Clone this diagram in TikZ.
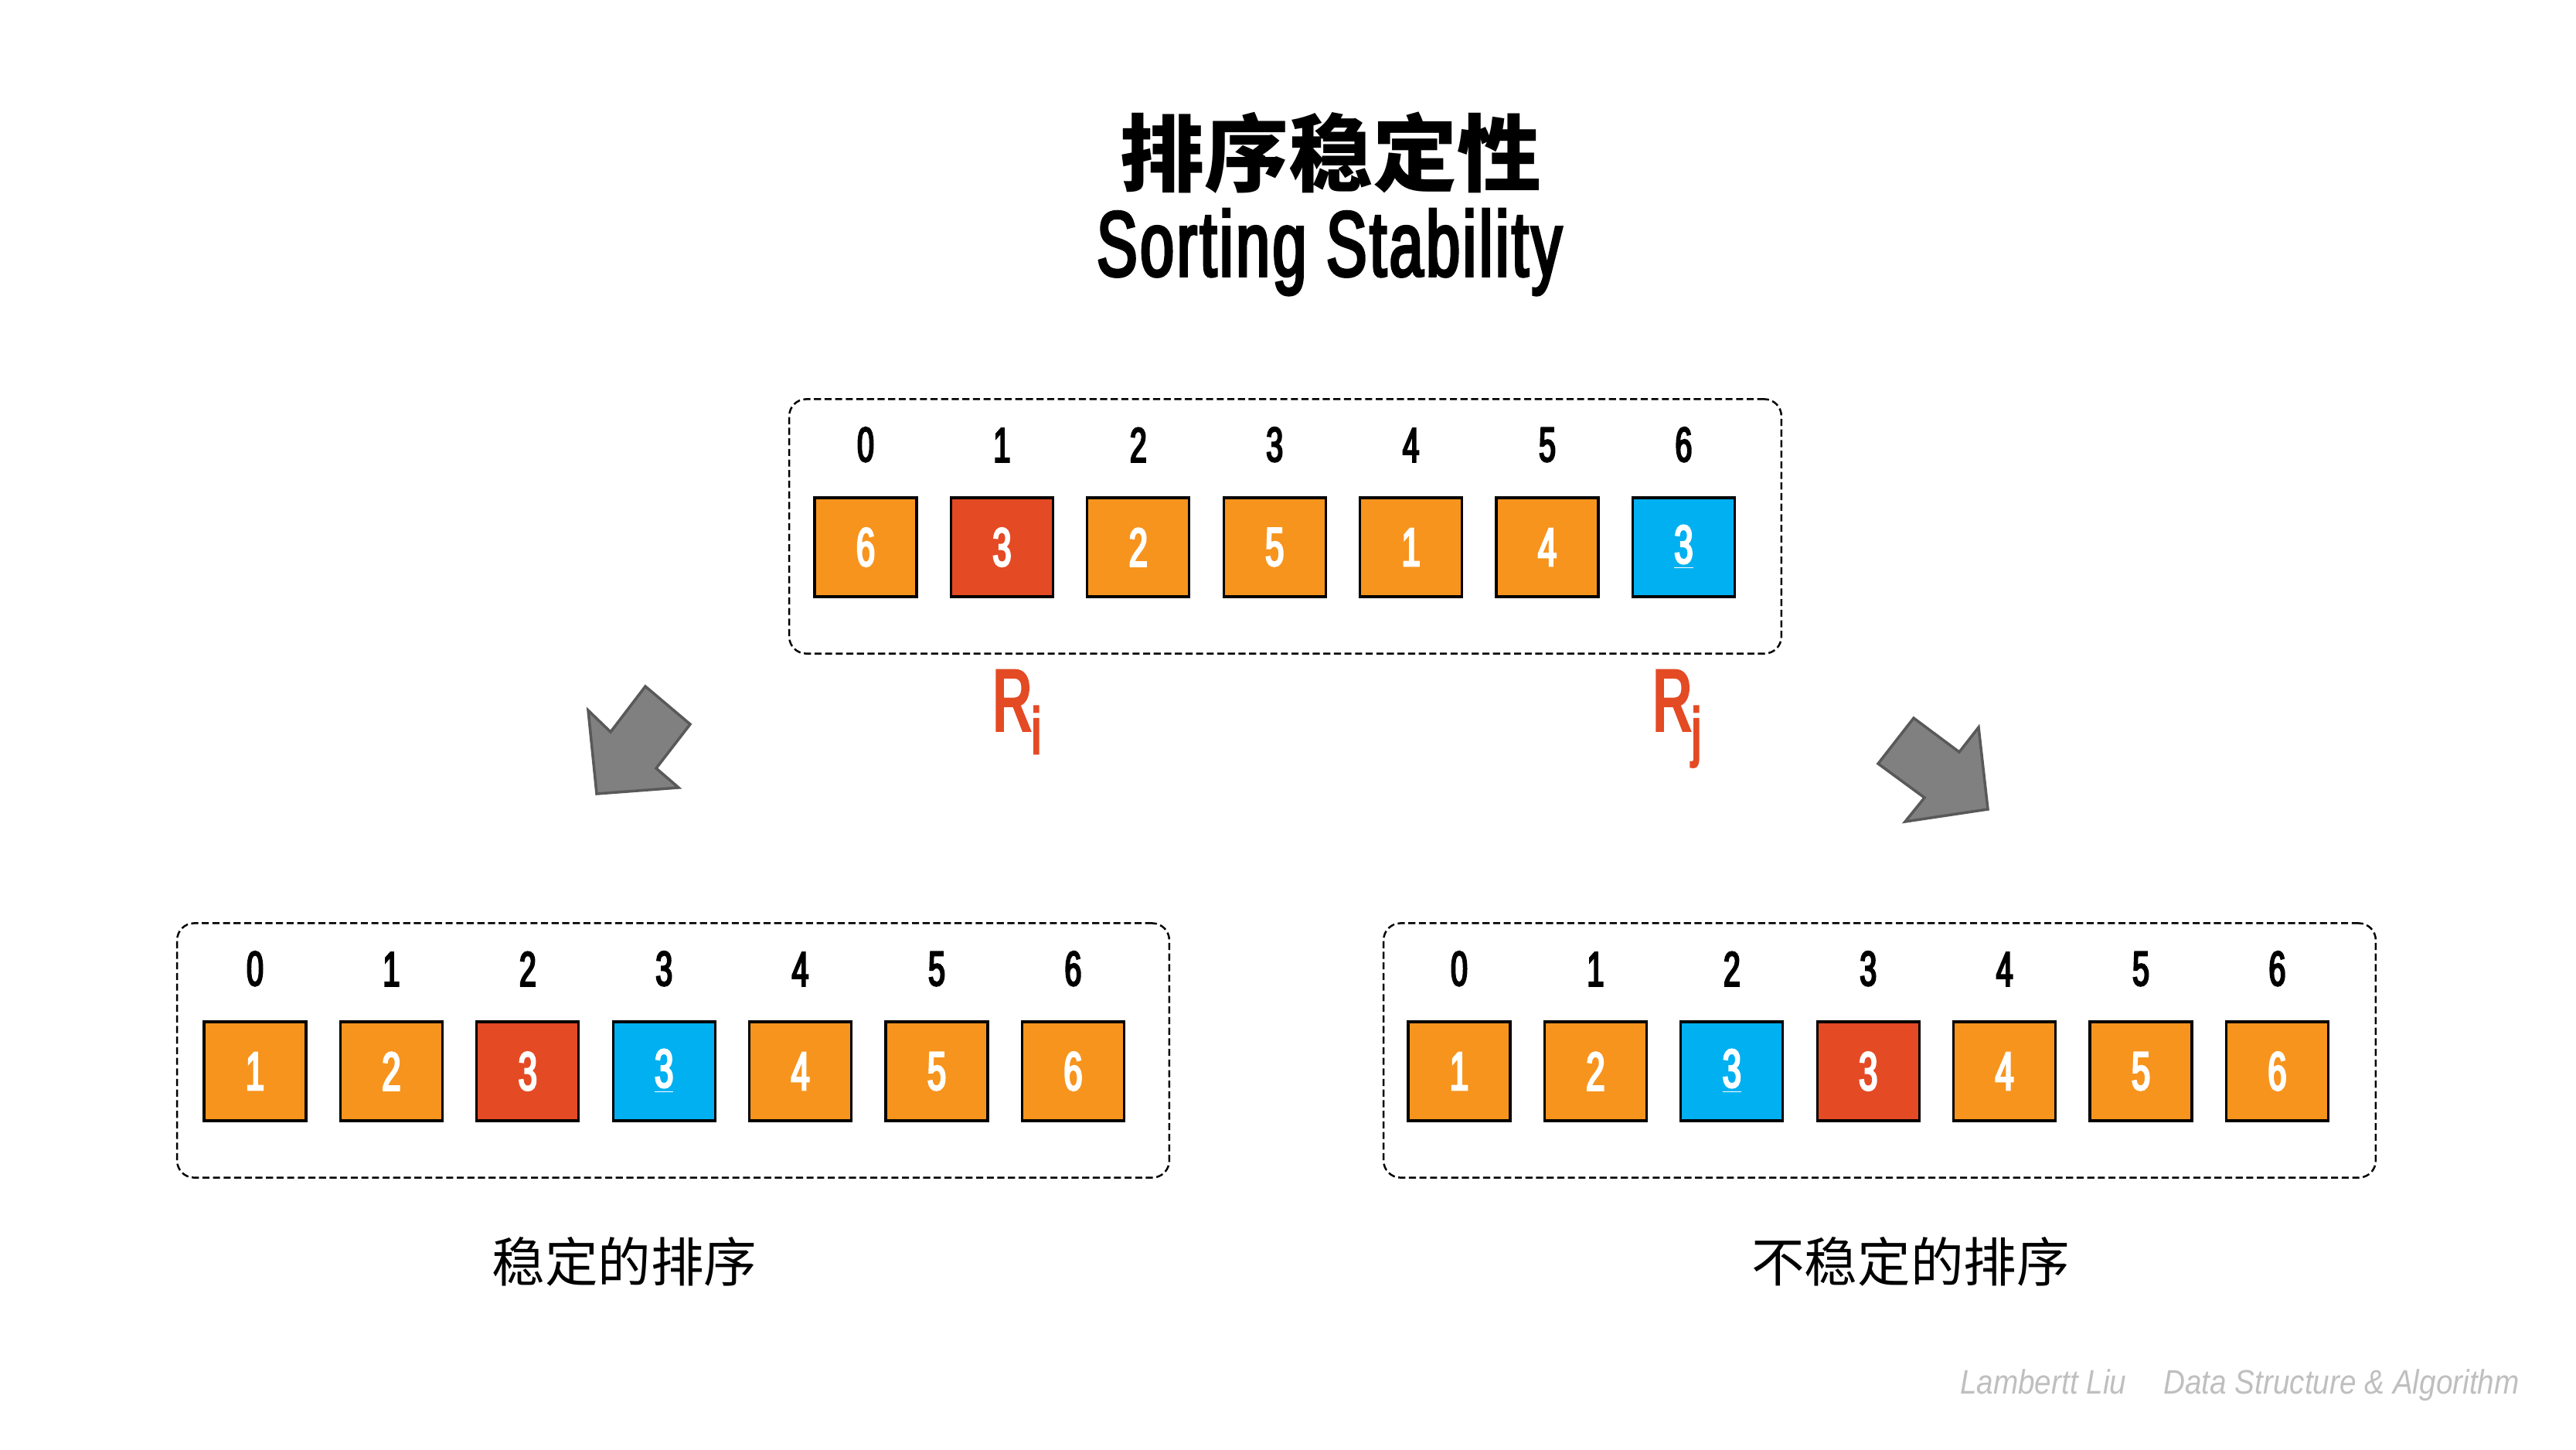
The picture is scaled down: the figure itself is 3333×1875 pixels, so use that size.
\documentclass[tikz,border=0pt]{standalone}
\usepackage{fontspec}
\usetikzlibrary{positioning}
\newfontfamily\stbcond{Liberation Sans}[FakeStretch=0.62, FakeBold=3.5]
\newfontfamily\stbtitle{Liberation Sans}[FakeStretch=0.66, FakeBold=3, LetterSpace=3]
\newfontfamily\stbfoot{Liberation Sans}[FakeStretch=0.88]
\newfontfamily\stbcjk{Noto Sans CJK SC}
\definecolor{stbOrange}{HTML}{F7941D}
\definecolor{stbRed}{HTML}{E44A24}
\definecolor{stbBlue}{HTML}{00B0F0}
\definecolor{stbGray}{HTML}{808080}
\definecolor{stbDark}{HTML}{595959}
\definecolor{stbFoot}{HTML}{BFBFBF}
\tikzset{
  stb cell/.style={draw=black, line width=0.9pt, minimum width=1.32cm, minimum height=1.28cm, inner sep=0pt, text=white, font=\stbcond\fontsize{20}{24}\selectfont},
  stb index/.style={inner sep=0pt, text=black, font=\stbcond\fontsize{18}{22}\selectfont},
  stb frame/.style={draw=black, dash pattern=on 2.6pt off 1.3pt, line width=0.7pt, rounded corners=0.22cm, minimum width=12.83cm, minimum height=3.29cm, inner sep=0pt},
  stb arrow/.style={fill=stbGray, draw=stbDark, line width=1pt, line join=miter},
  stb rlabel/.style={anchor=base west, inner sep=0pt, text=stbRed, font=\stbcond\fontsize{32}{36}\selectfont},
  stb caption/.style={font=\stbcjk\fontsize{19.5}{22}\selectfont},
}

\begin{document}
\begin{tikzpicture}[x=0.01cm,y=-0.01cm]
  \useasboundingbox (0,0) rectangle (3333,1875);
  % title
  \node (title-cn) at (1722,198) {\stbcjk\bfseries\fontsize{31}{34}\selectfont 排序稳定性};
  \node[anchor=base] (title-en) at (1720,357) {\stbtitle\fontsize{34}{38}\selectfont Sorting Stability};
  % input array
  \node[stb frame] (top-frame) at (1663,681) {};
  \foreach \v/\c [count=\i from 0] in {6/stbOrange,3/stbRed,2/stbOrange,5/stbOrange,1/stbOrange,4/stbOrange,{\underline{3}}/stbBlue} {
    \node[stb cell, fill=\c] (top-\i) at (1120+176.4*\i,708) {\v};
    \node[stb index, above=0.44cm of top-\i] (top-idx-\i) {\i};
  }
  \node[stb rlabel] (r-i) at (1284,945) {R\raisebox{-8.5pt}{\fontsize{24}{26}\selectfont i}};
  \node[stb rlabel] (r-j) at (2138,945) {R\raisebox{-8.5pt}{\fontsize{24}{26}\selectfont j}};
  % block arrows
  \draw[stb arrow] (835,888) -- (893,937) -- (849,994) -- (878,1019) -- (772,1027) -- (761,919) -- (790,947) -- cycle;
  \draw[stb arrow] (2476,929) -- (2535,973) -- (2560,941) -- (2572,1047) -- (2465,1063) -- (2490,1032) -- (2430,988) -- cycle;
  % stable result
  \node[stb frame] (left-frame) at (871,1359) {};
  \foreach \v/\c [count=\i from 0] in {1/stbOrange,2/stbOrange,3/stbRed,{\underline{3}}/stbBlue,4/stbOrange,5/stbOrange,6/stbOrange} {
    \node[stb cell, fill=\c] (left-\i) at (330+176.4*\i,1386) {\v};
    \node[stb index, above=0.44cm of left-\i] (left-idx-\i) {\i};
  }
  % unstable result
  \node[stb frame] (right-frame) at (2432,1359) {};
  \foreach \v/\c [count=\i from 0] in {1/stbOrange,2/stbOrange,{\underline{3}}/stbBlue,3/stbRed,4/stbOrange,5/stbOrange,6/stbOrange} {
    \node[stb cell, fill=\c] (right-\i) at (1888+176.4*\i,1386) {\v};
    \node[stb index, above=0.44cm of right-\i] (right-idx-\i) {\i};
  }
  \node[stb caption] (cap-stable) at (808,1632) {稳定的排序};
  \node[stb caption] (cap-unstable) at (2472,1632) {不稳定的排序};
  % footer
  \node[anchor=east, text=stbFoot, font=\stbfoot\itshape\fontsize{12.5}{15}\selectfont] (footer) at (3272,1792) {Lambertt Liu\hspace{1.1em}Data Structure \& Algorithm};
\end{tikzpicture}
\end{document}
